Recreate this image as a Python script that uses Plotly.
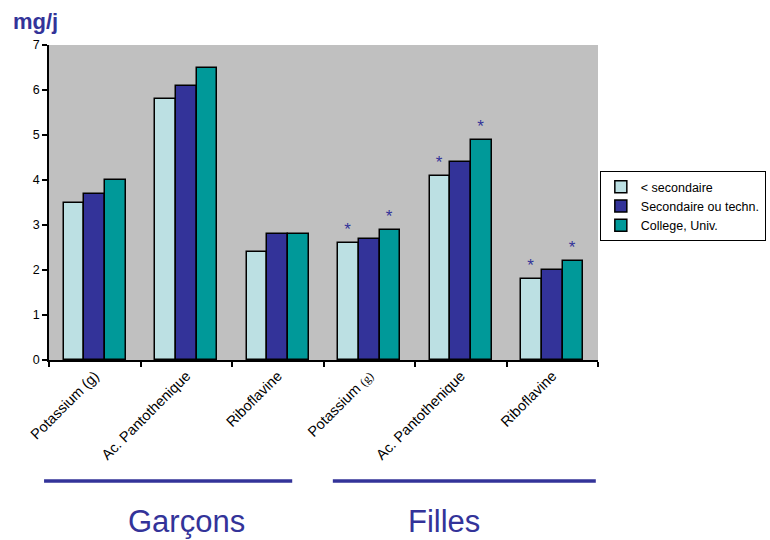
import plotly.graph_objects as go

# Nutrient categories (boys first, then girls)
categories = [
    "Potassium (g)",
    "Ac. Pantothenique",
    "Riboflavine",
    "Potassium <span style='font-family:Liberation Serif;font-size:12px'>(g)</span>",
    "Ac. Pantothenique",
    "Riboflavine",
]
x_pos = [0, 1, 2, 3, 4, 5]

series_names = ["< secondaire", "Secondaire ou techn.", "College, Univ."]
vals_lt_sec = [3.5, 5.8, 2.4, 2.6, 4.1, 1.8]
vals_sec = [3.7, 6.1, 2.8, 2.7, 4.4, 2.0]
vals_univ = [4.0, 6.5, 2.8, 2.9, 4.9, 2.2]

# significance markers
sig_lt_sec = ["", "", "", "*", "*", "*"]
sig_sec = ["", "", "", "", "", ""]
sig_univ = ["", "", "", "*", "*", "*"]

colors = ["#BCE0E3", "#333399", "#009999"]
series_vals = [vals_lt_sec, vals_sec, vals_univ]
series_sig = [sig_lt_sec, sig_sec, sig_univ]
offsets = [-0.3375, -0.1125, 0.1125]
bar_w = 0.225

font_family = "Arial, Liberation Sans, sans-serif"

fig = go.Figure()
for name, vals, sig, col, off in zip(series_names, series_vals, series_sig, colors, offsets):
    fig.add_trace(go.Bar(
        x=x_pos, y=vals, name=name,
        width=bar_w, offset=off,
        marker=dict(color=col, line=dict(color="black", width=1.5)),
        text=sig, textposition="outside",
        textfont=dict(color="#333399", size=17, family=font_family),
        cliponaxis=False,
    ))

fig.update_layout(
    width=770, height=540,
    margin=dict(l=49, r=172, t=45, b=180, autoexpand=False),
    paper_bgcolor="white",
    plot_bgcolor="#C0C0C0",
    font=dict(family=font_family, color="black", size=12),
    showlegend=True,
    legend=dict(
        xref="container", yref="container",
        x=0.779, y=0.683, xanchor="left", yanchor="top",
        bgcolor="white", bordercolor="black", borderwidth=1,
        font=dict(size=12.5, family=font_family, color="black"),
        itemwidth=30, tracegroupgap=0,
    ),
    bargap=0, barmode="overlay",
)

fig.update_xaxes(
    range=[-0.5, 5.5],
    tickmode="array", tickvals=x_pos, ticktext=categories,
    tickangle=-45, ticks="", showgrid=False, zeroline=False,
    showline=True, linecolor="black", linewidth=1.5,
    tickfont=dict(size=14.5, family=font_family, color="black"),
    minor=dict(tickvals=[-0.5, 0.5, 1.5, 2.5, 3.5, 4.5, 5.5],
               ticks="outside", ticklen=5, tickcolor="black", tickwidth=1.5),
)
fig.update_yaxes(
    range=[0, 7], dtick=1, tick0=0,
    ticks="outside", ticklen=5, tickcolor="black", tickwidth=1.5,
    showgrid=False, zeroline=False,
    showline=True, linecolor="black", linewidth=1.5,
    tickfont=dict(size=12.5, family=font_family, color="black"),
)

# unit label
fig.add_annotation(
    text="<b>mg/j</b>", xref="paper", yref="paper",
    x=-0.07, y=1.03, xanchor="left", yanchor="bottom",
    showarrow=False, font=dict(size=22, color="#333399", family=font_family),
)

# group underlines and group names
group_color = "#333399"
groups = [("Garçons", -0.009, 0.443, 0.25), ("Filles", 0.517, 0.996, 0.72)]
for label, x0, x1, xt in groups:
    fig.add_shape(type="line", xref="paper", yref="paper",
                  x0=x0, x1=x1, y0=-0.384, y1=-0.384,
                  line=dict(color=group_color, width=3.5))
    fig.add_annotation(
        text=label, xref="paper", yref="paper",
        x=xt, y=-0.514, xanchor="center", yanchor="middle",
        showarrow=False, font=dict(size=31, color=group_color, family=font_family),
    )

fig.write_html("out.html")
